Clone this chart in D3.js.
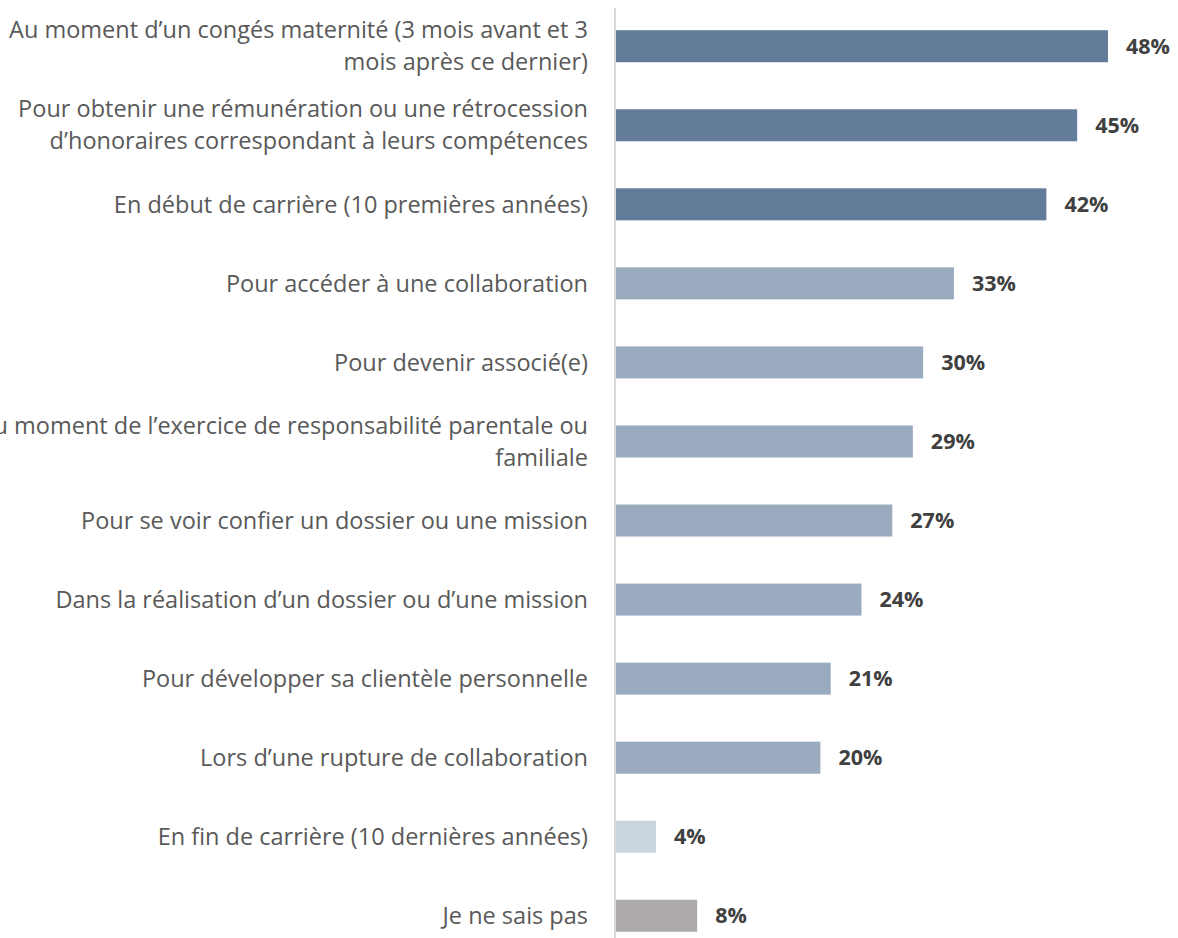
<!DOCTYPE html>
<html>
<head>
<meta charset="utf-8">
<script src="https://cdn.jsdelivr.net/npm/d3@7"></script>
<style>
  body { margin: 0; background: #fff; overflow: hidden; }
  #chart text { font-family: "Open Sans", "Liberation Sans", sans-serif; }
</style>
</head>
<body>
<div id="chart"></div>
<script>
// categories, one per bar (lines split where the original wraps)
var categories = [
  ["Au moment d’un congés maternité (3 mois avant et 3", "mois après ce dernier)"],
  ["Pour obtenir une rémunération ou une rétrocession", "d’honoraires correspondant à leurs compétences"],
  ["En début de carrière (10 premières années)"],
  ["Pour accéder à une collaboration"],
  ["Pour devenir associé(e)"],
  ["Au moment de l’exercice de responsabilité parentale ou", "familiale"],
  ["Pour se voir confier un dossier ou une mission"],
  ["Dans la réalisation d’un dossier ou d’une mission"],
  ["Pour développer sa clientèle personnelle"],
  ["Lors d’une rupture de collaboration"],
  ["En fin de carrière (10 dernières années)"],
  ["Je ne sais pas"]
];
var values = [48, 45, 42, 33, 30, 29, 27, 24, 21, 20, 4, 8];
var groups = ["haut", "haut", "haut", "moyen", "moyen", "moyen", "moyen", "moyen", "moyen", "moyen", "bas", "nsp"];

var width = 1178, height = 938;
var axisX = 615;  // position de l'axe vertical

var svg = d3.select("#chart").append("svg")
  .attr("width", width)
  .attr("height", height);

var color = d3.scaleOrdinal()
  .domain(["haut", "moyen", "bas", "nsp"])
  .range(["#627c9a", "#9aaabf", "#cbd5e0", "#aeaaaa"]);

var x = d3.scaleLinear()
  .domain([0, 48])
  .range([axisX, 1108]);

var y = d3.scaleBand()
  .domain(d3.range(categories.length))
  .range([6.5, 955.5])
  .paddingInner(0.595)
  .paddingOuter(0.3);

var rows = svg.selectAll("g.row")
  .data(values)
  .enter()
  .append("g")
  .attr("class", "row");

rows.append("rect")
  .attr("x", x(0) + 1)
  .attr("y", function (d, i) { return y(i); })
  .attr("width", function (d) { return x(d) - x(0) - 1; })
  .attr("height", y.bandwidth())
  .style("fill", function (d, i) { return color(groups[i]); });

// valeurs en gras
rows.append("text")
  .attr("x", function (d) { return x(d) + 18; })
  .attr("y", function (d, i) { return y(i) + y.bandwidth() / 2; })
  .attr("dy", "0.35em")
  .style("font-size", "21.5px")
  .style("font-weight", "bold")
  .style("fill", "#404040")
  .text(function (d) { return d + "%"; });

// libellés à gauche
rows.append("text")
  .attr("text-anchor", "end")
  .attr("x", 588)
  .attr("y", function (d, i) {
    var n = categories[i].length;
    return y(i) + y.bandwidth() / 2 - (n - 1) * 16;
  })
  .style("font-size", "23.5px")
  .style("fill", "#595959")
  .selectAll("tspan")
  .data(function (d, i) { return categories[i]; })
  .enter()
  .append("tspan")
  .attr("x", 588)
  .attr("dy", function (d, j) { return j === 0 ? "0.35em" : "32px"; })
  .text(function (d) { return d; });

// axe vertical
svg.append("line")
  .attr("x1", axisX).attr("x2", axisX)
  .attr("y1", 8).attr("y2", height)
  .style("stroke", "#d9d9d9")
  .style("stroke-width", 2);
</script>
</body>
</html>
